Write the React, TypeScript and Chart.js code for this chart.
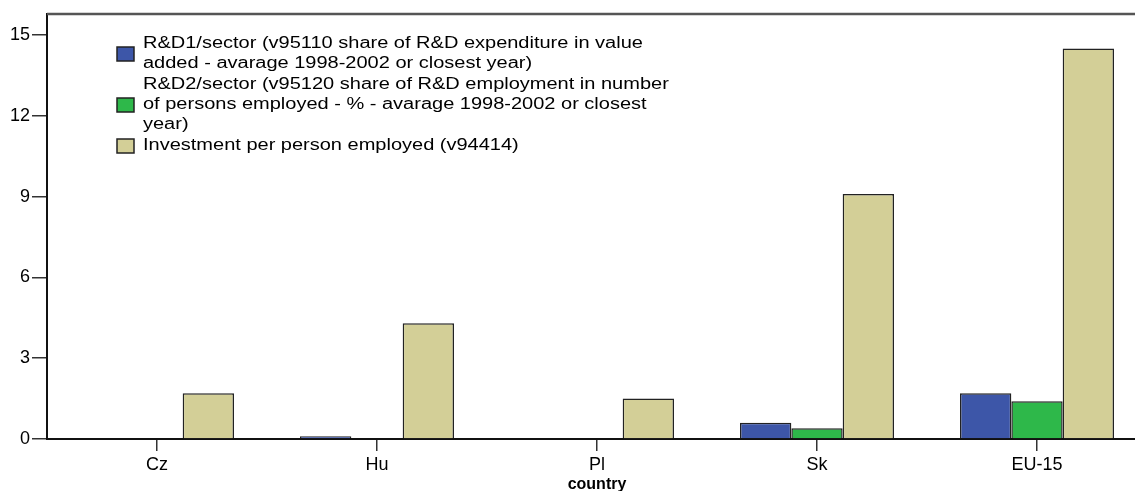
import React, { useEffect, useRef } from "react";
import { Chart, registerables } from "chart.js";

Chart.register(...registerables);

const categories = ["Cz", "Hu", "Pl", "Sk", "EU-15"];
const rd1Values = [null, 0.1, null, 0.6, 1.7];
const rd2Values = [null, null, null, 0.4, 1.4];
const investmentValues = [1.7, 4.3, 1.5, 9.1, 14.5];
const rd1Label = [
  "R&D1/sector (v95110 share of R&D expenditure in value",
  "added - avarage 1998-2002 or closest year)",
];
const rd2Label = [
  "R&D2/sector (v95120 share of R&D employment in number",
  "of persons employed - % - avarage 1998-2002 or closest",
  "year)",
];
const investmentLabel = ["Investment per person employed (v94414)"];
const yTickValues = [0, 3, 6, 9, 12, 15];
const yMax = 15.78;
const xTitle = "country";

const FONT = '"Liberation Sans", Arial, Helvetica, sans-serif';

const legendPlugin = {
  id: "wrappedLegend",
  afterDraw(chart: any) {
    const ctx = chart.ctx;
    const left = chart.chartArea.left;
    const swX = left + 70;
    const textX = left + 96;
    const lineH = 20;
    let y = chart.chartArea.top + 30;
    ctx.save();
    chart.data.datasets.forEach((ds: any) => {
      const lines: string[] = ds.legendLines;
      const first = y;
      const last = y + (lines.length - 1) * lineH;
      const mid = (first + last) / 2;
      ctx.fillStyle = ds.backgroundColor;
      ctx.fillRect(swX, mid - 7, 17, 14);
      ctx.strokeStyle = "#222";
      ctx.lineWidth = 1.5;
      ctx.strokeRect(swX, mid - 7, 17, 14);
      ctx.fillStyle = "#000";
      ctx.font = "16px " + FONT;
      ctx.textBaseline = "middle";
      ctx.textAlign = "left";
      lines.forEach((t, j) => {
        ctx.save();
        ctx.translate(textX, first + j * lineH);
        ctx.scale(1.25, 1);
        ctx.fillText(t, 0, 0);
        ctx.restore();
      });
      y = last + lineH + 1;
    });
    ctx.restore();
  },
};

const framePlugin = {
  id: "frame",
  afterDraw(chart: any) {
    const { ctx, chartArea } = chart;
    ctx.save();
    ctx.strokeStyle = "#555";
    ctx.lineWidth = 2.5;
    ctx.beginPath();
    ctx.moveTo(chartArea.left, chartArea.top);
    ctx.lineTo(chartArea.right, chartArea.top);
    ctx.lineTo(chartArea.right, chartArea.bottom);
    ctx.stroke();
    ctx.restore();
  },
};

export default function App() {
  const ref = useRef<HTMLCanvasElement | null>(null);

  useEffect(() => {
    if (!ref.current) return;
    const border = { borderColor: "#222", borderWidth: 1.5 };
    const chart = new Chart(ref.current, {
      type: "bar",
      data: {
        labels: categories,
        datasets: [
          { label: rd1Label.join(" "), legendLines: rd1Label, data: rd1Values, backgroundColor: "#3d56a8", ...border } as any,
          { label: rd2Label.join(" "), legendLines: rd2Label, data: rd2Values, backgroundColor: "#2eb84a", ...border } as any,
          { label: investmentLabel.join(" "), legendLines: investmentLabel, data: investmentValues, backgroundColor: "#d3cf97", ...border } as any,
        ],
      },
      options: {
        animation: false,
        responsive: false,
        devicePixelRatio: 1,
        layout: { padding: { left: 0, top: 14, right: 13, bottom: 0 } },
        datasets: { bar: { categoryPercentage: 0.7, barPercentage: 1 } },
        plugins: {
          legend: { display: false },
          tooltip: { enabled: false },
          title: { display: false },
        },
        scales: {
          x: {
            offset: true,
            grid: { offset: false, drawOnChartArea: false, tickLength: 12, color: "#333", lineWidth: 1.5 },
            border: { display: true, color: "#111", width: 2 },
            ticks: { color: "#000", padding: 3, font: { family: FONT, size: 18 } },
            title: {
              display: true,
              text: xTitle,
              color: "#000",
              padding: { top: 0, bottom: 0 },
              font: { family: FONT, size: 16, weight: "bold", lineHeight: 0.75 },
            },
            afterFit: (axis: any) => {
              axis.height = 52;
            },
          },
          y: {
            min: 0,
            max: yMax,
            grid: { drawOnChartArea: false, tickLength: 15, color: "#333", lineWidth: 1.5 },
            border: { display: true, color: "#111", width: 2 },
            ticks: { color: "#000", padding: 2, font: { family: FONT, size: 18 } },
            afterBuildTicks: (axis: any) => {
              axis.ticks = yTickValues.map((v) => ({ value: v }));
            },
            afterFit: (axis: any) => {
              axis.width = 47;
            },
          },
        },
      },
      plugins: [framePlugin, legendPlugin],
    } as any);
    return () => chart.destroy();
  }, []);

  return (
    <div style={{ position: "fixed", left: 0, top: 0, width: 1135, height: 491, overflow: "hidden", background: "#fff" }}>
      <canvas ref={ref} width={1160} height={491} style={{ display: "block" }} />
    </div>
  );
}
